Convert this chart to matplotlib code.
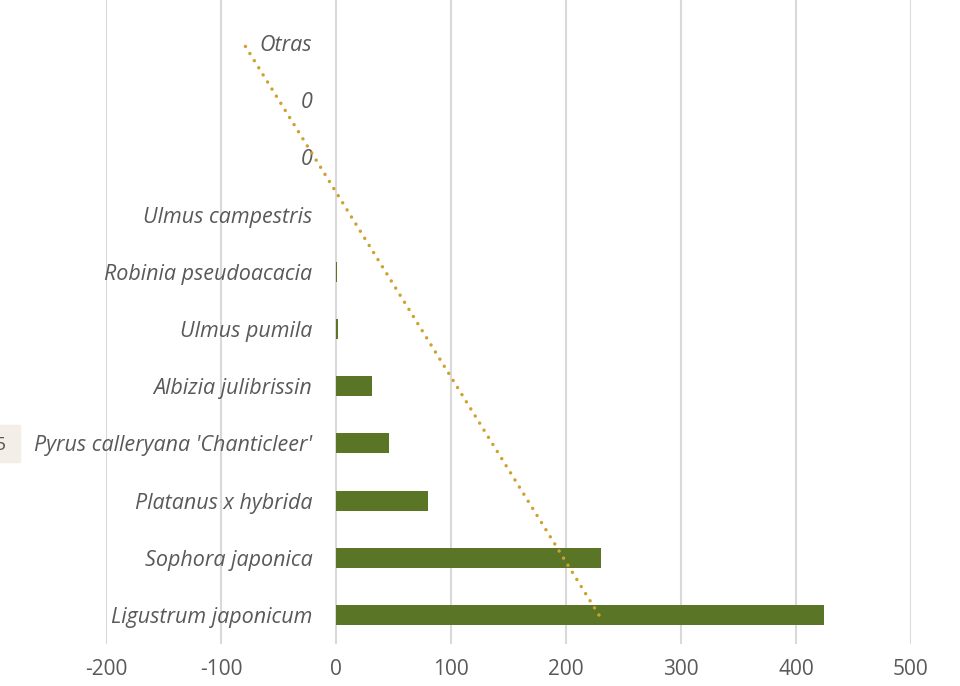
import matplotlib.pyplot as plt
import numpy as np
from matplotlib.patches import Rectangle

especies = ["Ligustrum japonicum", "Sophora japonica", "Platanus x hybrida",
            "Pyrus calleryana 'Chanticleer'", "Albizia julibrissin", "Ulmus pumila",
            "Robinia pseudoacacia", "Ulmus campestris", "0", "0", "Otras"]
valores = [424, 230, 80, 46, 31, 2, 1, 0, 0, 0, 0]
ticks_x = [-200, -100, 0, 100, 200, 300, 400, 500]

plt.rcParams['font.family'] = ['Open Sans', 'DejaVu Sans']

fig = plt.figure(figsize=(9.6, 6.86), dpi=100)
ax = fig.add_axes([106 / 960, 1 - 643.6 / 686, (911 - 106) / 960, 643.6 / 686])

pos = np.arange(len(especies))
ax.barh(pos, valores, height=0.35, color='#5b7526', zorder=3)

# linea de tendencia lineal (valor en funcion de la posicion)
m, b = np.polyfit(pos, valores, 1)
ext = pos[[0, -1]]
ax.plot(m * ext + b, ext, color='#d1a033', lw=2.5,
        dashes=(0.01, 2.4), dash_capstyle='round', zorder=4)

ax.set_xlim(-200, 500)
ax.set_ylim(-0.5, 10.75)
ax.set_xticks(ticks_x)
ax.set_xticklabels([str(t) for t in ticks_x], fontsize=15, color='#595959',
                   family=['Liberation Sans Narrow', 'Open Sans', 'DejaVu Sans'])
ax.tick_params(axis='x', length=0, pad=11)
ax.grid(axis='x', color='#d9d9d9', lw=1.5, zorder=0)

ax.spines['left'].set_position(('data', 0))
for s in ['top', 'right', 'bottom', 'left']:
    ax.spines[s].set_visible(False)
ax.set_yticks(pos)
ax.set_yticklabels(especies, fontsize=15.5, style='italic', color='#595959')
ax.tick_params(axis='y', length=0, pad=17)

# recorte de otro elemento a la izquierda
fig.patches.append(Rectangle((0, 1 - 462 / 686), 20 / 960, 37 / 686,
                             transform=fig.transFigure, color='#f3efe8', zorder=0))
fig.text(-5 / 960, 1 - 445 / 686, '5', fontsize=14, color='#595959', va='center')

fig.savefig('out.png', dpi=100)
